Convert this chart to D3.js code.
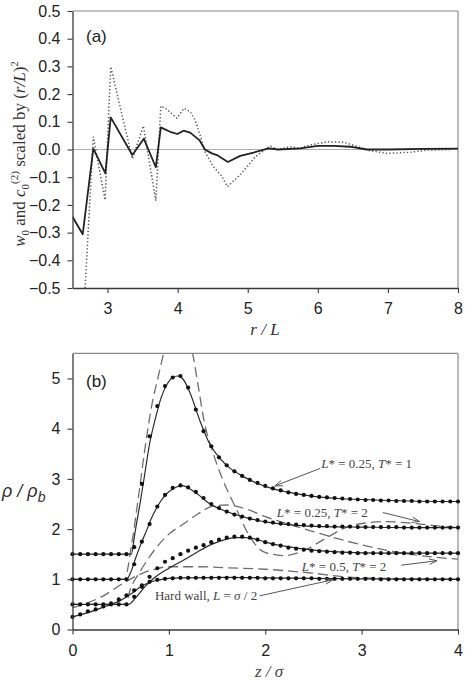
<!DOCTYPE html>
<html><head><meta charset="utf-8">
<script src="https://cdn.jsdelivr.net/npm/d3@7"></script>
<style>body{margin:0;background:#fff}</style>
</head><body><svg id="c" width="466" height="680"></svg>
<script>
// ---------- Panel (a) data ----------
const aXTicks = [3, 4, 5, 6, 7, 8];
const aYTicks = [-0.5, -0.4, -0.3, -0.2, -0.1, 0.0, 0.1, 0.2, 0.3, 0.4, 0.5];
const aSolidR = [2.5, 2.646, 2.797, 2.969, 3.045, 3.354, 3.517, 3.689, 3.76, 3.893, 3.997, 4.083, 4.179, 4.31, 4.39, 4.489, 4.56, 4.717, 4.893, 5.083, 5.297, 5.44, 5.75, 6.0, 6.23, 6.46, 6.70, 7.0, 7.5, 8.0];
const aSolidV = [-0.243, -0.306, 0.003, -0.086, 0.116, -0.02, 0.039, -0.064, 0.08, 0.064, 0.056, 0.068, 0.061, 0.034, 0.0, -0.014, -0.02, -0.045, -0.023, -0.011, 0.004, 0.0, 0.004, 0.013, 0.013, 0.01, 0.0, 0.0, 0.002, 0.003];
const aDotR = [2.68, 2.797, 2.964, 3.045, 3.354, 3.511, 3.689, 3.76, 3.846, 3.989, 4.093, 4.179, 4.25, 4.32, 4.39, 4.51, 4.63, 4.71, 4.89, 5.11, 5.32, 5.42, 5.61, 5.75, 5.89, 6.13, 6.37, 6.54, 6.73, 6.99, 7.32, 7.56, 7.9];
const aDotV = [-0.5, 0.046, -0.182, 0.299, -0.034, 0.085, -0.185, 0.157, 0.145, 0.113, 0.149, 0.136, 0.106, 0.052, -0.008, -0.062, -0.096, -0.134, -0.092, -0.026, 0.013, 0.0, 0.01, 0.005, 0.016, 0.028, 0.026, 0.013, -0.004, -0.014, -0.01, -0.002, 0.0];

// ---------- Panel (b) data ----------
const bXTicks = [0, 1, 2, 3, 4];
const bYTicks = [0, 1, 2, 3, 4, 5];
// solid curves [z, rho/rho_b]
const solidT1 = [[0,1.5],[0.61,1.5],[0.65,1.95],[0.7,2.5],[0.75,3.1],[0.8,3.7],[0.86,4.2],[0.92,4.62],[0.98,4.88],[1.04,5.02],[1.09,5.05],[1.15,4.98],[1.22,4.71],[1.32,4.17],[1.42,3.71],[1.53,3.41],[1.63,3.22],[1.75,3.07],[1.85,2.97],[2.05,2.82],[2.25,2.73],[2.5,2.65],[2.75,2.61],[3.0,2.59],[3.5,2.56],[4.0,2.55]];
const solidT2 = [[0,1],[0.56,1],[0.6,1.12],[0.66,1.45],[0.72,1.75],[0.77,1.98],[0.82,2.22],[0.87,2.41],[0.92,2.57],[0.98,2.71],[1.04,2.8],[1.1,2.85],[1.15,2.86],[1.2,2.82],[1.29,2.71],[1.42,2.51],[1.6,2.35],[1.84,2.21],[2.05,2.13],[2.3,2.08],[2.6,2.05],[3.0,2.04],[3.5,2.03],[4.0,2.03]];
const solidL5 = [[0,0.5],[0.58,0.5],[0.65,0.62],[0.75,0.85],[0.85,1.03],[1.0,1.22],[1.15,1.38],[1.3,1.55],[1.45,1.7],[1.6,1.8],[1.7,1.83],[1.8,1.83],[1.9,1.8],[2.0,1.74],[2.2,1.66],[2.5,1.58],[2.8,1.54],[3.2,1.52],[4.0,1.52]];
const solidHW = [[0,0.25],[0.1,0.3],[0.2,0.36],[0.3,0.43],[0.4,0.5],[0.5,0.58],[0.6,0.7],[0.7,0.84],[0.8,0.94],[0.9,0.99],[1.0,1.02],[1.2,1.03],[1.6,1.04],[2.0,1.03],[2.5,1.02],[3.0,1.01],[4.0,1.0]];
// dashed (theory) curves
const dashT2 = [[0,1],[0.54,1.0],[0.61,1.65],[0.68,2.58],[0.75,3.58],[0.82,4.44],[0.89,5.04],[0.95,5.53],[1.02,5.9],[1.1,6.05],[1.18,5.85],[1.245,5.51],[1.3,4.9],[1.37,4.11],[1.46,3.51],[1.56,2.98],[1.7,2.4],[1.84,1.85],[1.98,1.55],[2.1,1.49],[2.2,1.47],[2.41,1.58],[2.63,1.82],[2.86,2.05],[3.08,2.13],[3.26,2.15],[3.5,2.12],[3.75,2.07],[4.0,2.03]];
const dashL5 = [[0,0.5],[0.55,0.5],[0.6,0.8],[0.7,1.15],[0.8,1.45],[0.9,1.7],[1.0,1.9],[1.15,2.1],[1.3,2.3],[1.46,2.46],[1.6,2.48],[1.8,2.4],[2.0,2.25],[2.5,1.95],[3.08,1.65],[3.5,1.5],[4.0,1.4]];
const dashHW = [[0,0.43],[0.3,0.65],[0.55,0.95],[0.7,1.1],[0.85,1.2],[1.0,1.25],[1.3,1.25],[1.6,1.23],[2.0,1.2],[2.5,1.12],[2.82,1.05],[3.2,1.02],[4.0,1.0]];
// simulation points
const dotZ = [0,0.08,0.16,0.24,0.32,0.40,0.48,0.56,0.64,0.72,0.80,0.88,0.96,1.04,1.12,1.20,1.28,1.36,1.44,1.52,1.60,1.68,1.76,1.84,1.92,2.00,2.08,2.16,2.24,2.32,2.40,2.48,2.56,2.64,2.72,2.80,2.88,2.96,3.04,3.12,3.20,3.28,3.36,3.44,3.52,3.60,3.68,3.76,3.84,3.92,4.00];
const dotT1 = [1.5,1.5,1.5,1.5,1.5,1.5,1.5,1.5,1.64,2.9,3.85,4.45,4.85,5.02,5.05,4.82,4.38,3.95,3.65,3.43,3.27,3.15,3.06,2.98,2.92,2.86,2.81,2.77,2.73,2.70,2.68,2.66,2.64,2.63,2.62,2.61,2.60,2.59,2.58,2.58,2.57,2.57,2.56,2.56,2.56,2.55,2.55,2.55,2.55,2.55,2.55];
const dotT2 = [1,1,1,1,1,1,1,1,1.3,1.75,2.1,2.45,2.68,2.82,2.87,2.83,2.74,2.62,2.5,2.42,2.35,2.29,2.25,2.21,2.18,2.15,2.13,2.11,2.10,2.09,2.08,2.07,2.06,2.06,2.05,2.05,2.05,2.04,2.04,2.04,2.04,2.04,2.04,2.03,2.03,2.03,2.03,2.03,2.03,2.03,2.03];
const dotL5 = [0.5,0.5,0.5,0.5,0.5,0.5,0.5,0.5,0.65,0.85,1.05,1.22,1.35,1.42,1.5,1.57,1.63,1.68,1.74,1.79,1.83,1.85,1.85,1.83,1.79,1.74,1.70,1.67,1.63,1.61,1.59,1.57,1.56,1.55,1.54,1.53,1.53,1.52,1.52,1.52,1.52,1.52,1.52,1.52,1.52,1.52,1.52,1.52,1.52,1.52,1.52];
const dotHW = [0.25,0.3,0.36,0.4,0.46,0.52,0.6,0.68,0.78,0.88,0.95,0.99,1.01,1.02,1.03,1.03,1.03,1.03,1.03,1.03,1.03,1.03,1.03,1.03,1.03,1.02,1.02,1.02,1.02,1.02,1.02,1.02,1.01,1.01,1.01,1.01,1.01,1.01,1.01,1.01,1.0,1.0,1.0,1.0,1.0,1.0,1.0,1.0,1.0,1.0,1.0];

// ---------- drawing ----------
const svg = d3.select("#c");
const SANS = "'Liberation Sans', Arial, sans-serif";
const SERIF = "'Liberation Serif', 'Times New Roman', serif";
const AX = "#3a3a3a", FRAME = "#8a8a8a";

function frame(g, x, y, fullBox) {
  const [x0, x1] = x.range(), [y0, y1] = y.range();
  g.append("line").attr("x1", x0).attr("x2", x1).attr("y1", y1).attr("y2", y1).attr("stroke", FRAME).attr("stroke-width", 1.2);
  g.append("line").attr("x1", x1).attr("x2", x1).attr("y1", y1).attr("y2", y0).attr("stroke", FRAME).attr("stroke-width", 1.2);
}
function axes(g, x, y, xt, yt, fmtY) {
  const ax = g.append("g").attr("transform", `translate(0,${y.range()[0]})`)
    .call(d3.axisBottom(x).tickValues(xt).tickSize(5).tickPadding(10).tickSizeOuter(0).tickFormat(d3.format("d")));
  const ay = g.append("g").attr("transform", `translate(${x.range()[0]},0)`)
    .call(d3.axisLeft(y).tickValues(yt).tickSize(5).tickPadding(7).tickSizeOuter(0).tickFormat(fmtY));
  [ax, ay].forEach(a => {
    a.select(".domain").attr("stroke", AX).attr("stroke-width", 1.3);
    a.selectAll(".tick line").attr("stroke", AX).attr("stroke-width", 1.1);
    a.selectAll(".tick text").attr("fill", "#222").style("font-family", SANS).style("font-size", "16px");
  });
}

// Panel (a)
const xa = d3.scaleLinear().domain([2.5, 8]).range([72.5, 458]);
const ya = d3.scaleLinear().domain([-0.5, 0.5]).range([288, 11]);
const ga = svg.append("g");
svg.append("clipPath").attr("id", "clipA").append("rect").attr("x", 72.5).attr("y", 11).attr("width", 458 - 72.5).attr("height", 277);
frame(ga, xa, ya);
ga.append("line").attr("x1", xa(2.5)).attr("x2", xa(8)).attr("y1", ya(0)).attr("y2", ya(0)).attr("stroke", "#b0b0b0").attr("stroke-width", 1.2);
const lineA = d3.line().x(d => xa(d[0])).y(d => ya(d[1]));
ga.append("path").attr("clip-path", "url(#clipA)").attr("d", lineA(aDotR.map((r, i) => [r, aDotV[i]])))
  .attr("fill", "none").attr("stroke", "#555").attr("stroke-width", 1.5).attr("stroke-dasharray", "1.3,2.2");
ga.append("path").attr("clip-path", "url(#clipA)").attr("d", lineA(aSolidR.map((r, i) => [r, aSolidV[i]])))
  .attr("fill", "none").attr("stroke", "#222").attr("stroke-width", 1.8).attr("stroke-linejoin", "round");
axes(ga, xa, ya, aXTicks, aYTicks, d3.format(".1f"));
ga.append("text").attr("x", 86).attr("y", 42).text("(a)").style("font-family", SANS).style("font-size", "17px").attr("fill", "#222");
// y label (a)
const yl = ga.append("text").attr("transform", "translate(25,154) rotate(-90)").attr("text-anchor", "middle")
  .style("font-family", SERIF).style("font-size", "17px").attr("fill", "#333");
yl.append("tspan").style("font-style", "italic").text("w");
yl.append("tspan").attr("dy", 4).style("font-size", "11px").text("0");
yl.append("tspan").attr("dy", -4).text(" and ");
yl.append("tspan").style("font-style", "italic").text("c");
yl.append("tspan").attr("dy", 4).style("font-size", "11px").text("0");
yl.append("tspan").attr("dy", -11).style("font-size", "11px").text("(2)");
yl.append("tspan").attr("dy", 7).text(" scaled by (");
yl.append("tspan").style("font-style", "italic").text("r/L");
yl.append("tspan").text(")");
yl.append("tspan").attr("dy", -7).style("font-size", "11px").text("2");
const xl = ga.append("text").attr("x", 265).attr("y", 335).attr("text-anchor", "middle")
  .style("font-family", SERIF).style("font-size", "17px").style("font-style", "italic").attr("fill", "#333").text("r / L");

// Panel (b)
const xb = d3.scaleLinear().domain([0, 4]).range([72.5, 458]);
const yb = d3.scaleLinear().domain([0, 5.5]).range([629.5, 353.4]);
const gb = svg.append("g");
svg.append("clipPath").attr("id", "clipB").append("rect").attr("x", 72.5).attr("y", 353.4).attr("width", 458 - 72.5).attr("height", 629.5 - 353.4);
frame(gb, xb, yb);
const lineB = d3.line().x(d => xb(d[0])).y(d => yb(d[1])).curve(d3.curveMonotoneX);
[dashT2, dashL5, dashHW].forEach(c => gb.append("path").attr("clip-path", "url(#clipB)").attr("d", lineB(c))
  .attr("fill", "none").attr("stroke", "#6e6e6e").attr("stroke-width", 1.3).attr("stroke-dasharray", "10,5"));
[solidT1, solidT2, solidL5, solidHW].forEach(c => gb.append("path").attr("clip-path", "url(#clipB)").attr("d", lineB(c))
  .attr("fill", "none").attr("stroke", "#2a2a2a").attr("stroke-width", 1.2));
[dotT1, dotT2, dotL5, dotHW].forEach(vals => gb.append("g").selectAll("circle").data(vals).join("circle")
  .attr("cx", (d, i) => xb(dotZ[i])).attr("cy", d => yb(d)).attr("r", 2.1).attr("fill", "#111"));
axes(gb, xb, yb, bXTicks, bYTicks, d3.format("d"));
gb.append("text").attr("x", 86).attr("y", 387).text("(b)").style("font-family", SANS).style("font-size", "17px").attr("fill", "#222");
const ylb = gb.append("text").attr("x", 2).attr("y", 497).style("font-family", SANS).style("font-size", "18px").style("font-style", "italic").attr("fill", "#333");
ylb.append("tspan").text("ρ / ρ");
ylb.append("tspan").attr("dy", 5).style("font-size", "14px").text("b");
gb.append("text").attr("x", 269).attr("y", 677).attr("text-anchor", "middle")
  .style("font-family", SERIF).style("font-size", "17px").style("font-style", "italic").attr("fill", "#444").text("z / σ");

// annotations
function note(z, v, parts) {
  const t = gb.append("text").attr("x", xb(z)).attr("y", yb(v)).style("font-family", SERIF).style("font-size", "13px").attr("fill", "#444");
  parts.forEach(p => t.append("tspan").style("font-style", p[1] ? "italic" : "normal").text(p[0]));
}
function arrow(z0, v0, z1, v1) {
  const x0 = xb(z0), y0 = yb(v0), x1 = xb(z1), y1 = yb(v1);
  gb.append("line").attr("x1", x0).attr("y1", y0).attr("x2", x1).attr("y2", y1).attr("stroke", "#555").attr("stroke-width", 1);
  const a = Math.atan2(y1 - y0, x1 - x0), L = 8, w = 0.35;
  const p = [[x1 - L * Math.cos(a - w), y1 - L * Math.sin(a - w)], [x1, y1], [x1 - L * Math.cos(a + w), y1 - L * Math.sin(a + w)]];
  gb.append("polyline").attr("points", p.map(q => q.join(",")).join(" ")).attr("fill", "none").attr("stroke", "#555").attr("stroke-width", 1);
}
note(2.58, 3.22, [["L", 1], ["* = 0.25, ", 0], ["T", 1], ["* = 1", 0]]);
arrow(2.57, 3.21, 2.10, 2.86);
note(2.12, 2.25, [["L", 1], ["* = 0.25, ", 0], ["T", 1], ["* = 2", 0]]);
arrow(3.22, 2.33, 3.6, 2.15);
note(2.38, 1.16, [["L", 1], ["* = 0.5, ", 0], ["T", 1], ["* = 2", 0]]);
arrow(3.41, 1.28, 3.78, 1.37);
note(0.855, 0.58, [["Hard wall, ", 0], ["L", 1], [" = ", 0], ["σ", 1], [" / 2", 0]]);
arrow(1.94, 0.67, 2.70, 0.99);
</script></body></html>
